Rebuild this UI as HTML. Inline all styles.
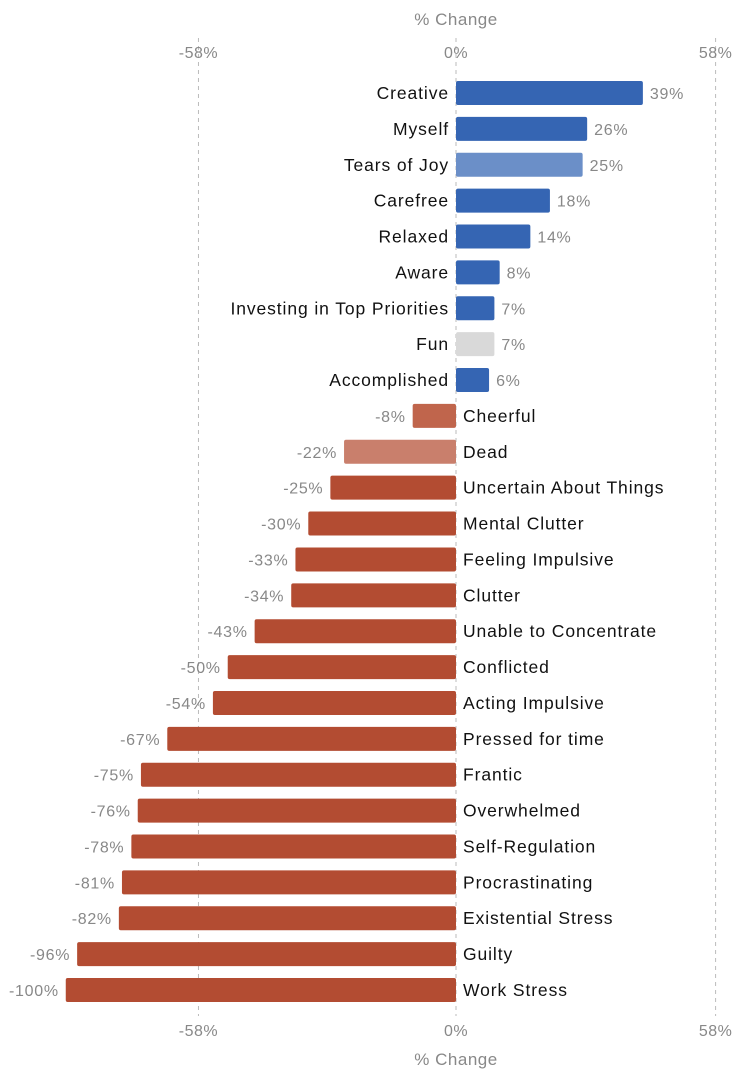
<!DOCTYPE html>
<html><head><meta charset="utf-8"><style>
html,body{margin:0;padding:0;background:#fff;}
svg{display:block;font-family:"Liberation Sans",Helvetica,Arial,sans-serif;}
</style></head><body>
<svg id="chart" width="745" height="1077"></svg>
<script>
const categories=["Creative","Myself","Tears of Joy","Carefree","Relaxed","Aware","Investing in Top Priorities","Fun","Accomplished","Cheerful","Dead","Uncertain About Things","Mental Clutter","Feeling Impulsive","Clutter","Unable to Concentrate","Conflicted","Acting Impulsive","Pressed for time","Frantic","Overwhelmed","Self-Regulation","Procrastinating","Existential Stress","Guilty","Work Stress"];
const values=[39,26,25,18,14,8,7,7,6,-8,-22,-25,-30,-33,-34,-43,-50,-54,-67,-75,-76,-78,-81,-82,-96,-100];
const barColors=["#3565b3","#3565b3","#6b8fc8","#3565b3","#3565b3","#3565b3","#3565b3","#d9d9d9","#3565b3","#c0654c","#c97f6c","#b34c32","#b34c32","#b34c32","#b34c32","#b34c32","#b34c32","#b34c32","#b34c32","#b34c32","#b34c32","#b34c32","#b34c32","#b34c32","#b34c32","#b34c32"];
const tickValues=[-58,0,58];
const tickLabels=["-58%","0%","58%"];

const NS="http://www.w3.org/2000/svg";
const svg=document.getElementById("chart");
const x0=456,K=563;
function xs(v){return x0+Math.sign(v)*K*Math.log(1+Math.abs(v)/100)*(v>0?1.008:1);}
const yTop=93,step=35.88;
function ys(i){return yTop+i*step;}
function mk(tag,attrs,text){const e=document.createElementNS(NS,tag);for(const k in attrs)e.setAttribute(k,attrs[k]);if(text!==undefined)e.textContent=text;svg.appendChild(e);return e;}

tickValues.forEach((t,i)=>{
  const g=mk("line",{x1:xs(t),x2:xs(t),y1:38,y2:1016,stroke:"#bbb","stroke-dasharray":"4,4","stroke-width":1});
  
  
  const a=mk("text",{x:xs(t),y:58,"text-anchor":"middle","font-size":16,fill:"#888","letter-spacing":0.5},tickLabels[i]);
  
  
  const b=mk("text",{x:xs(t),y:1036,"text-anchor":"middle","font-size":16,fill:"#888","letter-spacing":0.5},tickLabels[i]);
  
  
});
const t1=mk("text",{x:456,y:25,"text-anchor":"middle","font-size":17,fill:"#888","letter-spacing":0.5},"% Change");


const t2=mk("text",{x:456,y:1065,"text-anchor":"middle","font-size":17,fill:"#888","letter-spacing":0.5},"% Change");



values.forEach((v,i)=>{
  const y=ys(i),xe=xs(v);
  const r=mk("rect",{x:Math.min(x0,xe),y:y-12,width:Math.abs(xe-x0),height:24,rx:2,fill:barColors[i]});
  
  
  const pos=v>=0;
  const c=mk("text",{x:pos?x0-7:x0+7,y:y+6,"text-anchor":pos?"end":"start","font-size":17.5,fill:"#111","letter-spacing":0.9},categories[i]);
  
  
  const l=mk("text",{x:pos?xe+7:xe-7,y:y+6,"text-anchor":pos?"start":"end","font-size":16,fill:"#888","letter-spacing":0.7},v+"%");
  
  
});
</script>
</body></html>
